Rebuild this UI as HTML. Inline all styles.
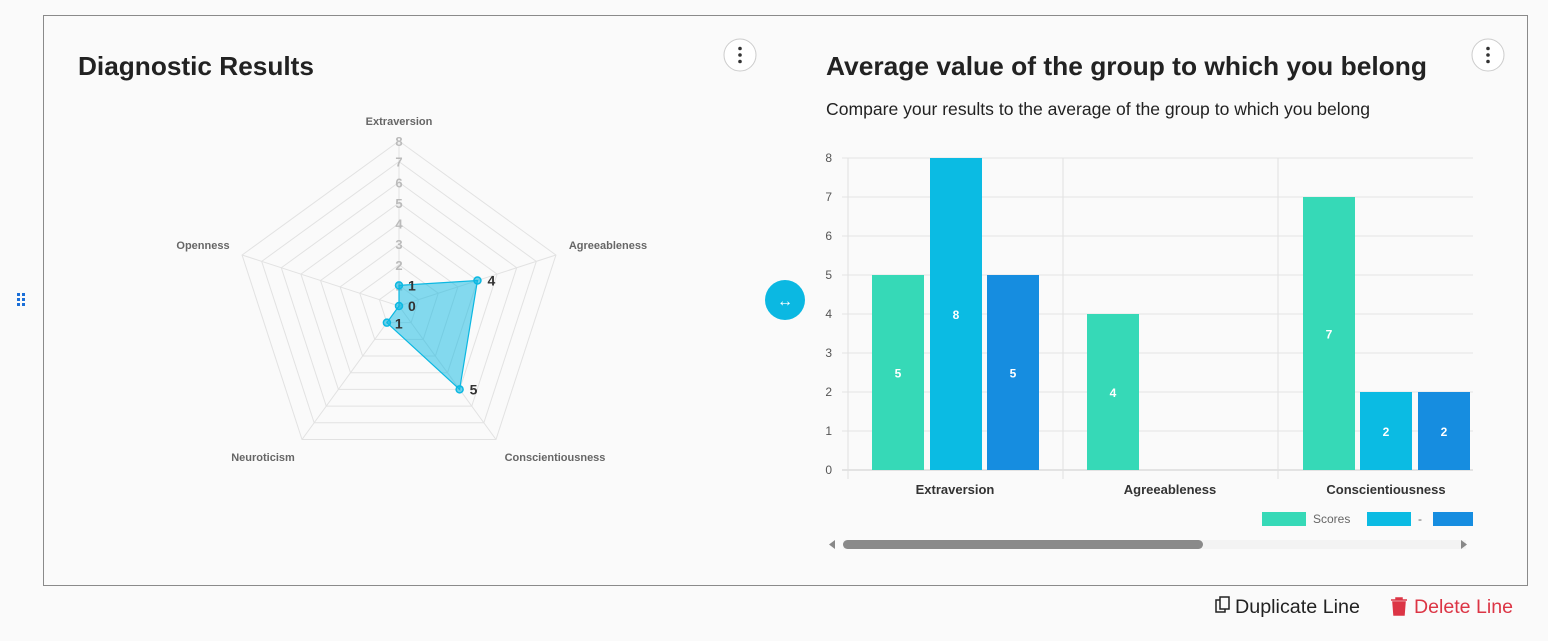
<!DOCTYPE html>
<html><head><meta charset="utf-8"><style>
html,body{margin:0;padding:0;background:#fafafa;}
body{width:1548px;height:636px;overflow:hidden;font-family:"Liberation Sans",sans-serif;}
svg text{font-family:"Liberation Sans",sans-serif;}
</style></head><body>
<svg id="s" width="1548" height="636" xmlns="http://www.w3.org/2000/svg">
<rect x="0" y="0" width="1548" height="636" fill="#fafafa"/>
<rect x="43.5" y="15.5" width="1484" height="570" fill="#fafafa" stroke="#8a8a8a" stroke-width="1"/>
<text x="78" y="75" font-size="26" font-weight="bold" fill="#222" textLength="236" lengthAdjust="spacingAndGlyphs">Diagnostic Results</text>
<text x="826" y="75" font-size="26" font-weight="bold" fill="#222" textLength="601" lengthAdjust="spacingAndGlyphs">Average value of the group to which you belong</text>
<text x="826" y="115" font-size="17.5" fill="#222" textLength="544" lengthAdjust="spacingAndGlyphs">Compare your results to the average of the group to which you belong</text>
<circle cx="740" cy="55" r="16" fill="#fff" stroke="#ccc"/>
<circle cx="740" cy="48.5" r="1.8" fill="#333"/><circle cx="740" cy="55" r="1.8" fill="#333"/><circle cx="740" cy="61.5" r="1.8" fill="#333"/>
<circle cx="1488" cy="55" r="16" fill="#fff" stroke="#ccc"/>
<circle cx="1488" cy="48.5" r="1.8" fill="#333"/><circle cx="1488" cy="55" r="1.8" fill="#333"/><circle cx="1488" cy="61.5" r="1.8" fill="#333"/>
<g fill="#1a6fd8"><rect x="17" y="293" width="3" height="3"/><rect x="22" y="293" width="3" height="3"/><rect x="17" y="298" width="3" height="3"/><rect x="22" y="298" width="3" height="3"/><rect x="17" y="303" width="3" height="3"/><rect x="22" y="303" width="3" height="3"/></g>
<circle cx="785" cy="300" r="20" fill="#0bb8e2"/>
<text x="785" y="306" font-size="16" font-weight="bold" fill="#fff" text-anchor="middle">↔</text>
<g id="radar"></g>
<g id="bars"></g>
<text x="1235" y="613" font-size="19" fill="#222" textLength="125" lengthAdjust="spacingAndGlyphs">Duplicate Line</text>
<rect x="1216" y="600" width="9" height="12" fill="none" stroke="#222" stroke-width="1.5"/><rect x="1220" y="597" width="9" height="12" fill="#fafafa" stroke="#222" stroke-width="1.5"/>
<path d="M1391 600 h16 M1396 600 v-2 h6 v2 M1393 602 h12 l-1 13 h-10 z" fill="#dc3545" stroke="#dc3545" stroke-width="1.5"/>
<text x="1414" y="613" font-size="19" fill="#dc3545" textLength="99" lengthAdjust="spacingAndGlyphs">Delete Line</text>
</svg>
<script>
var NS="http://www.w3.org/2000/svg";
function el(p,t,a,txt){var e=document.createElementNS(NS,t);for(var k in a)e.setAttribute(k,a[k]);if(txt!=null)e.textContent=txt;p.appendChild(e);return e;}
var R=document.getElementById('radar'),cx=399,cy=306,u=20.625;
var ang=[0,72,144,216,288].map(function(d){return d*Math.PI/180;});
function pt(i,v){return [cx+v*u*Math.sin(ang[i]),cy-v*u*Math.cos(ang[i])];}
for(var k=1;k<=8;k++){var ps=[];for(var i=0;i<5;i++)ps.push(pt(i,k).join(','));el(R,'polygon',{points:ps.join(' '),fill:'none',stroke:'#e2e2e2','stroke-width':1});}
for(var i=0;i<5;i++){var p=pt(i,8);el(R,'line',{x1:cx,y1:cy,x2:p[0],y2:p[1],stroke:'#e2e2e2'});}
for(var k=1;k<=8;k++){el(R,'text',{x:cx,y:cy-k*u+5,'font-size':13,'font-weight':'bold',fill:'#bbb','text-anchor':'middle'},k);}
var data=[1,4,5,1,0],ps=[];for(var i=0;i<5;i++)ps.push(pt(i,data[i]).join(','));
el(R,'polygon',{points:ps.join(' '),fill:'rgba(11,184,226,0.5)',stroke:'#0bb8e2','stroke-width':1.2});
var off=[[9,5],[10,5],[10,5],[8,6],[9,5]];
for(var i=0;i<5;i++){var p=pt(i,data[i]);el(R,'circle',{cx:p[0],cy:p[1],r:3.5,fill:'rgba(11,184,226,0.6)',stroke:'#0bb8e2','stroke-width':1.5});el(R,'text',{x:p[0]+off[i][0],y:p[1]+off[i][1],'font-size':14,'font-weight':'bold',fill:'#333'},data[i]);}
var labs=[['Extraversion',399,125,'middle'],['Agreeableness',608,249,'middle'],['Conscientiousness',555,461,'middle'],['Neuroticism',263,461,'middle'],['Openness',203,249,'middle']];
labs.forEach(function(l){el(R,'text',{x:l[1],y:l[2],'font-size':11,'font-weight':'bold',fill:'#666','text-anchor':l[3]},l[0]);});
var B=document.getElementById('bars'),y0=470,bu=39;
for(var k=0;k<=8;k++){var y=y0-k*bu;el(B,'line',{x1:842,y1:y,x2:1473,y2:y,stroke:k==0?'#ccc':'#e4e4e4'});el(B,'text',{x:832,y:y+4,'font-size':12,fill:'#555','text-anchor':'end'},k);}
[848,1063,1278].forEach(function(x){el(B,'line',{x1:x,y1:158,x2:x,y2:479,stroke:'#e0e0e0'});});
var bars=[[872,5,'#36d9b7'],[930,8,'#0bbbe3'],[987,5,'#168de0'],[1087,4,'#36d9b7'],[1303,7,'#36d9b7'],[1360,2,'#0bbbe3'],[1418,2,'#168de0']];
bars.forEach(function(b){var h=b[1]*bu;el(B,'rect',{x:b[0],y:y0-h,width:52,height:h,fill:b[2]});el(B,'text',{x:b[0]+26,y:y0-h/2+5,'font-size':12,'font-weight':'bold',fill:'#fff','text-anchor':'middle'},b[1]);});
[['Extraversion',955],['Agreeableness',1170],['Conscientiousness',1386]].forEach(function(c){el(B,'text',{x:c[1],y:494,'font-size':13,'font-weight':'bold',fill:'#333','text-anchor':'middle'},c[0]);});
el(B,'rect',{x:1262,y:512,width:44,height:14,fill:'#36d9b7'});
el(B,'text',{x:1313,y:523,'font-size':12,fill:'#666'},'Scores');
el(B,'rect',{x:1367,y:512,width:44,height:14,fill:'#0bbbe3'});
el(B,'text',{x:1418,y:523,'font-size':12,fill:'#666'},'-');
el(B,'rect',{x:1433,y:512,width:40,height:14,fill:'#168de0'});
el(B,'rect',{x:843,y:540,width:623,height:9,fill:'#f3f3f3'});
el(B,'rect',{x:843,y:540,width:360,height:9,rx:4.5,fill:'#8a8a8a'});
el(B,'polygon',{points:'829,544.5 835,540 835,549',fill:'#888'});
el(B,'polygon',{points:'1467,544.5 1461,540 1461,549',fill:'#888'});
</script>
</body></html>
